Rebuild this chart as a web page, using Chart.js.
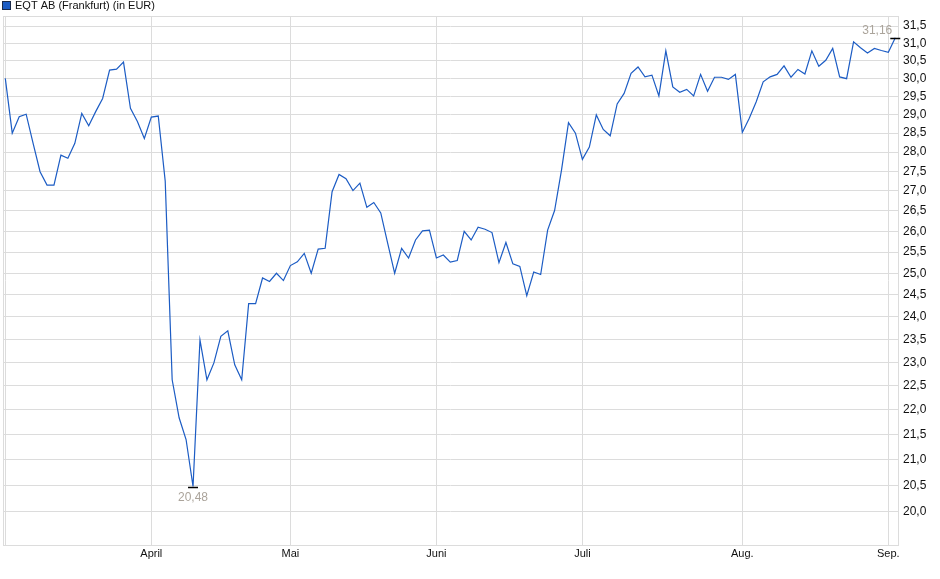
<!DOCTYPE html>
<html>
<head>
<meta charset="utf-8">
<script src="https://cdn.jsdelivr.net/npm/chart.js@4"></script>
<style>
    html, body { margin: 0; padding: 0; background: #fff; }
    #wrap { width: 940px; height: 579px; }
</style>
</head>
<body>
<div id="wrap"><canvas id="chart" width="940" height="579"></canvas></div>
<script>
    const seriesName = 'EQT AB (Frankfurt) (in EUR)'

    // closing prices, one per trading day (3 Mar .. 2 Sep)
    const prices = [
        30.00, 28.50, 28.94, 29.01, 28.23, 27.49, 27.15, 27.15, 27.92, 27.84,
        28.23, 29.03, 28.70, 29.08, 29.44, 30.23, 30.26, 30.46, 29.17, 28.81,
        28.36, 28.93, 28.96, 27.25, 22.63, 21.84, 21.40, 20.48, 23.49, 22.63,
        22.99, 23.57, 23.69, 22.95, 22.63, 24.30, 24.30, 24.89, 24.81, 25.00,
        24.83, 25.18, 25.27, 25.47, 25.00, 25.57, 25.59, 26.98, 27.42, 27.31,
        27.01, 27.20, 26.59, 26.71, 26.45, 25.71, 25.00, 25.59, 25.36, 25.79,
        26.01, 26.03, 25.36, 25.43, 25.26, 25.30, 26.00, 25.79, 26.10, 26.05,
        25.97, 25.25, 25.73, 25.22, 25.16, 24.48, 25.03, 24.97, 26.03, 26.51,
        27.54, 28.78, 28.50, 27.81, 28.13, 28.99, 28.60, 28.43, 29.29, 29.58,
        30.14, 30.32, 30.04, 30.09, 29.51, 30.78, 29.76, 29.61, 29.69, 29.51,
        30.11, 29.64, 30.03, 30.03, 29.97, 30.11, 28.52, 28.90, 29.35, 29.90,
        30.04, 30.11, 30.35, 30.03, 30.25, 30.12, 30.78, 30.34, 30.51, 30.85,
        30.04, 29.99, 31.04, 30.87, 30.72, 30.85, 30.79, 30.74, 31.16
    ]

    // first trading day of each month (index into prices) and its label
    const monthStarts = [0, 21, 41, 62, 83, 106, 127]
    const monthLabels = ['', 'April', 'Mai', 'Juni', 'Juli', 'Aug.', 'Sep.']

    const yTicks = [
        20.0, 20.5, 21.0, 21.5, 22.0, 22.5, 23.0, 23.5, 24.0, 24.5, 25.0, 25.5,
        26.0, 26.5, 27.0, 27.5, 28.0, 28.5, 29.0, 29.5, 30.0, 30.5, 31.0, 31.5
    ]

    const lineColor = '#1c5cc4'
    const gridColor = '#dcdcdc'
    const fontFamily = '"Liberation Sans", Arial, sans-serif'

    const fmt = v => v.toFixed(2).replace('.', ',')

    const extras = {
        id: 'extras',
        beforeDatasetsDraw: chart => {
            const { ctx, chartArea: a } = chart
            ctx.save()
            ctx.strokeStyle = gridColor
            ctx.lineWidth = 1
            ctx.strokeRect(a.left + 0.5, a.top + 0.5, a.right - a.left, a.bottom - a.top)
            ctx.restore()
        },
        afterDatasetsDraw: chart => {
            const { ctx } = chart
            const xs = chart.scales.x, ys = chart.scales.y
            let lo = 0, hi = 0
            prices.forEach((p, i) => {
                if (p < prices[lo]) lo = i
                if (p > prices[hi]) hi = i
            })

            ctx.save()
            ctx.strokeStyle = '#000'
            ctx.lineWidth = 1.5
            ctx.font = '12px ' + fontFamily
            ctx.fillStyle = '#aba49b'

            const lx = xs.getPixelForValue(lo), ly = Math.round(ys.getPixelForValue(prices[lo])) + 0.5
            ctx.beginPath()
            ctx.moveTo(lx - 5, ly)
            ctx.lineTo(lx + 5, ly)
            ctx.stroke()
            ctx.textAlign = 'center'
            ctx.textBaseline = 'middle'
            ctx.fillText(fmt(prices[lo]), lx, ly + 10)

            const hx = xs.getPixelForValue(hi), hy = Math.round(ys.getPixelForValue(prices[hi])) + 0.5
            ctx.beginPath()
            ctx.moveTo(hx - 5, hy)
            ctx.lineTo(hx + 5, hy)
            ctx.stroke()
            ctx.textAlign = 'right'
            ctx.fillText(fmt(prices[hi]), hx - 3, hy - 8)

            // legend
            ctx.fillStyle = lineColor
            ctx.fillRect(3, 2, 7, 7)
            ctx.strokeStyle = '#1a2a4a'
            ctx.lineWidth = 1
            ctx.strokeRect(2.5, 1.5, 8, 8)
            ctx.fillStyle = '#111'
            ctx.font = '11px ' + fontFamily
            ctx.textAlign = 'left'
            ctx.fillText(seriesName, 15, 6)
            ctx.restore()
        }
    }

    new Chart(document.getElementById('chart'), {
        type: 'line',
        data: {
            datasets: [{
                label: seriesName,
                data: prices.map((p, i) => ({ x: i, y: p })),
                borderColor: lineColor,
                borderWidth: 1.2,
                pointRadius: 0,
                tension: 0,
                fill: false
            }]
        },
        options: {
            responsive: false,
            animation: false,
            layout: {
                padding: { left: 3, top: 16, right: 0, bottom: 0 }
            },
            plugins: {
                legend: { display: false },
                tooltip: { enabled: false }
            },
            scales: {
                x: {
                    type: 'linear',
                    min: -0.33,
                    max: 128.39,
                    afterBuildTicks: scale => {
                        scale.ticks = monthStarts.map(v => ({ value: v }))
                    },
                    afterFit: scale => {
                        scale.height = 34
                    },
                    ticks: {
                        autoSkip: false,
                        maxRotation: 0,
                        padding: 2,
                        color: '#111',
                        font: { family: fontFamily, size: 11 },
                        callback: (v, i) => monthLabels[i]
                    },
                    grid: {
                        color: gridColor,
                        drawTicks: false
                    },
                    border: { color: gridColor }
                },
                y: {
                    type: 'logarithmic',
                    position: 'right',
                    min: 19.39,
                    max: 31.80,
                    afterBuildTicks: scale => {
                        scale.ticks = yTicks.map(v => ({ value: v }))
                    },
                    afterFit: scale => {
                        scale.width = 42
                    },
                    ticks: {
                        autoSkip: false,
                        padding: 5,
                        color: '#111',
                        font: { family: fontFamily, size: 12 },
                        callback: v => v.toFixed(1).replace('.', ',')
                    },
                    grid: {
                        color: gridColor,
                        drawTicks: false
                    },
                    border: { color: gridColor }
                }
            }
        },
        plugins: [extras]
    })
</script>
</body>
</html>
